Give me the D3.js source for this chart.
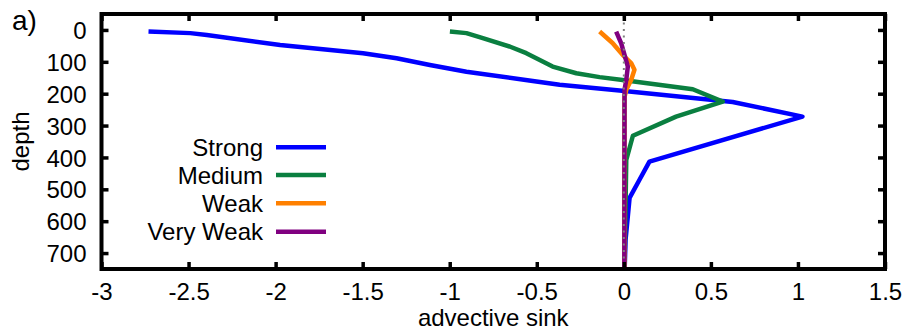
<!DOCTYPE html>
<html>
<head>
<meta charset="utf-8">
<script src="https://cdn.jsdelivr.net/npm/d3@7"></script>
<style>
  body { margin: 0; background: #fff; }
  text { font-family: "Liberation Sans", Arial, sans-serif; fill: #000; }
</style>
</head>
<body>
<svg id="chart" width="908" height="333"></svg>
<script>
// depth levels and advective sink values
const strongDepth = [5, 10, 16, 47, 73, 89, 110, 131, 160, 172, 190, 226, 272, 413, 470, 527, 658, 745];
const strongSink  = [-2.73, -2.49, -2.395, -1.974, -1.498, -1.305, -1.114, -0.904, -0.523, -0.369, -0.025, 0.625, 1.026, 0.147, 0.09, 0.033, 0.01, 0.005];

const mediumDepth = [5, 10, 26, 52, 73, 94, 115, 136, 148, 157, 186, 225, 272, 332, 408, 745];
const mediumSink  = [-0.999, -0.904, -0.81, -0.656, -0.56, -0.483, -0.409, -0.273, -0.139, -0.007, 0.396, 0.568, 0.30, 0.052, 0.014, 0.004];

const weakDepth = [5, 41, 78, 104, 125, 157, 188, 210, 745];
const weakSink  = [-0.139, -0.065, -0.007, 0.042, 0.061, 0.042, 0.014, 0.004, 0.003];

const veryWeakDepth = [5, 42, 78, 115, 157, 188, 745];
const veryWeakSink  = [-0.044, -0.015, 0.004, 0.023, 0.014, 0.004, 0.003];

const seriesNames  = ["Strong", "Medium", "Weak", "Very Weak"];
const seriesColors = ["#0000ff", "#0a7f40", "#ff8000", "#800080"];

const xTicks = [-3, -2.5, -2, -1.5, -1, -0.5, 0, 0.5, 1, 1.5];
const yTicks = [0, 100, 200, 300, 400, 500, 600, 700];

const series = [
  { depth: strongDepth, sink: strongSink },
  { depth: mediumDepth, sink: mediumSink },
  { depth: weakDepth, sink: weakSink },
  { depth: veryWeakDepth, sink: veryWeakSink }
];

const svg = d3.select("#chart");
const plotLeft = 101.5, plotRight = 885, plotTop = 14, plotBottom = 269;

const x = d3.scaleLinear().domain([-3, 1.5]).range([plotLeft, plotRight]);
const y = d3.scaleLinear().domain([-50, 750]).range([plotTop, plotBottom]);

const line = d3.line()
  .x(d => x(d[0]))
  .y(d => y(d[1]));

// curves
const g = svg.append("g");
series.forEach((s, i) => {
  const pts = s.depth.map((d, j) => [s.sink[j], d]);
  g.append("path")
    .datum(pts)
    .attr("d", line)
    .attr("fill", "none")
    .attr("stroke", seriesColors[i])
    .attr("stroke-width", 4.5)
    .attr("stroke-linejoin", "round");
});

// dotted zero line
svg.append("line")
  .attr("x1", x(0)).attr("x2", x(0))
  .attr("y1", plotTop + 2).attr("y2", plotBottom - 2)
  .attr("stroke", "#808080")
  .attr("stroke-width", 2)
  .attr("stroke-dasharray", "2,4.5");

// axes: inward ticks, mirrored on top and right (gnuplot style, plain hyphen minus)
const tickLen = 7;
const bottomAxis = svg.append("g")
  .attr("transform", "translate(0," + plotBottom + ")")
  .call(d3.axisBottom(x).tickValues(xTicks).tickSize(-tickLen).tickPadding(14).tickFormat(d => String(d)));
const topAxis = svg.append("g")
  .attr("transform", "translate(0," + plotTop + ")")
  .call(d3.axisTop(x).tickValues(xTicks).tickSize(-tickLen).tickFormat(""));
const leftAxis = svg.append("g")
  .attr("transform", "translate(" + plotLeft + ",0)")
  .call(d3.axisLeft(y).tickValues(yTicks).tickSize(-tickLen).tickPadding(15).tickFormat(d => String(d)));
const rightAxis = svg.append("g")
  .attr("transform", "translate(" + plotRight + ",0)")
  .call(d3.axisRight(y).tickValues(yTicks).tickSize(-tickLen).tickFormat(""));

[bottomAxis, topAxis, leftAxis, rightAxis].forEach(a => {
  a.select(".domain").remove();
  a.selectAll(".tick line").attr("stroke", "#000").attr("stroke-width", 3.5);
  a.selectAll("text").attr("font-size", 24).attr("font-family", "Liberation Sans, Arial, sans-serif").attr("fill", "#000");
});
bottomAxis.selectAll("text").attr("dy", "0.71em");
leftAxis.selectAll("text").attr("dy", "0.36em");

// frame
svg.append("rect")
  .attr("x", plotLeft).attr("y", plotTop)
  .attr("width", plotRight - plotLeft).attr("height", plotBottom - plotTop)
  .attr("fill", "none")
  .attr("stroke", "#000")
  .attr("stroke-width", 4);

// labels
svg.append("text")
  .attr("x", (plotLeft + plotRight) / 2)
  .attr("y", 326)
  .attr("text-anchor", "middle")
  .attr("font-size", 24)
  .text("advective sink");

svg.append("text")
  .attr("transform", "translate(29," + ((plotTop + plotBottom) / 2) + ") rotate(-90)")
  .attr("text-anchor", "middle")
  .attr("font-size", 24)
  .text("depth");

svg.append("text")
  .attr("x", 12)
  .attr("y", 30)
  .attr("font-size", 28)
  .text("a)");

// legend
const legendY = [147.3, 175, 203.3, 231.7];
const legend = svg.append("g");
seriesNames.forEach((name, i) => {
  legend.append("text")
    .attr("x", 263)
    .attr("y", legendY[i] + 8.5)
    .attr("text-anchor", "end")
    .attr("font-size", 24)
    .text(name);
  legend.append("line")
    .attr("x1", 276).attr("x2", 326)
    .attr("y1", legendY[i]).attr("y2", legendY[i])
    .attr("stroke", seriesColors[i])
    .attr("stroke-width", 4.5);
});
</script>
</body>
</html>
